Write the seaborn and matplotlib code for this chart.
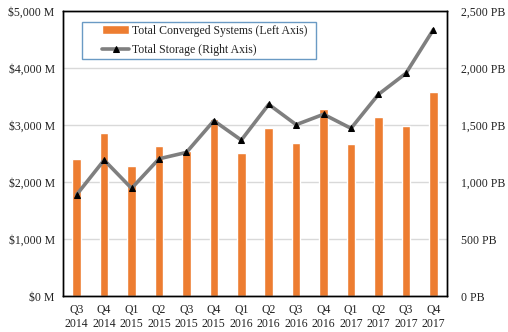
import numpy as np
import pandas as pd
import matplotlib
matplotlib.use("Agg")
import matplotlib.pyplot as plt
from matplotlib.patches import Rectangle
import seaborn as sns

quarters = ["Q3\n2014", "Q4\n2014", "Q1\n2015", "Q2\n2015", "Q3\n2015", "Q4\n2015", "Q1\n2016",
            "Q2\n2016", "Q3\n2016", "Q4\n2016", "Q1\n2017", "Q2\n2017", "Q3\n2017", "Q4\n2017"]
converged_musd = [2400, 2865, 2280, 2630, 2550, 3105, 2515,
                  2950, 2685, 3280, 2665, 3140, 2980, 3585]
storage_pb = [890, 1193, 945, 1204, 1260, 1538, 1368,
              1681, 1503, 1594, 1471, 1769, 1953, 2336]
left_ticks = [0, 1000, 2000, 3000, 4000, 5000]
right_ticks = [0, 500, 1000, 1500, 2000, 2500]

sns.set_theme(style="white")
plt.rcParams["font.family"] = ["Liberation Serif", "DejaVu Serif"]
plt.rcParams["font.size"] = 8.5

df = pd.DataFrame({"quarter": quarters, "converged": converged_musd, "storage": storage_pb})

fig = plt.figure(figsize=(5.08, 3.32), dpi=100)
ax = fig.add_axes([0.124, 0.108, 0.756, 0.859])

sns.barplot(data=df, x="quarter", y="converged", color="#ED7D31", width=0.31,
            saturation=1, ax=ax, label="Total Converged Systems (Left Axis)", zorder=2)
ax.set_ylim(0, 5000)
ax.set_yticks(left_ticks)
ax.set_yticklabels([f"${v:,} M" for v in left_ticks])
ax.set_xlim(-0.5, len(quarters) - 0.5)
ax.set_xlabel("")
ax.set_ylabel("")
ax.yaxis.grid(True, color="#d9d9d9", linewidth=1)
ax.set_axisbelow(True)
ax.tick_params(axis="both", length=0, labelsize=8.5, colors="#222222", pad=6)

ax2 = ax.twinx()
sns.lineplot(x=np.arange(len(quarters)), y=df["storage"], ax=ax2, color="#7F7F7F",
             linewidth=2.6, marker="^", markersize=4, markerfacecolor="black",
             markeredgecolor="black", label="Total Storage (Right Axis)", zorder=3)
ax2.set_ylim(0, 2500)
ax2.set_yticks(right_ticks)
ax2.set_yticklabels([f"{v:,} PB" for v in right_ticks])
ax2.set_ylabel("")
ax2.tick_params(axis="y", length=0, labelsize=8.5, colors="#222222", pad=10)
ax2.set_xlim(-0.5, len(quarters) - 0.5)

for a in (ax, ax2):
    for s in a.spines.values():
        s.set_color("black")
        s.set_linewidth(1.0)

h1, l1 = ax.get_legend_handles_labels()
h2, l2 = ax2.get_legend_handles_labels()
if ax.get_legend():
    ax.get_legend().remove()

# legend box: a plain rectangle frame with the entries inset from its left edge
ax2.add_patch(Rectangle((0.0495, 0.832), 0.6095, 0.129, transform=ax2.transAxes,
                        facecolor="white", edgecolor="#6A9AC4", linewidth=1.0,
                        zorder=4, clip_on=False))
leg = ax2.legend(h1 + h2, l1 + l2, loc="upper left", bbox_to_anchor=(0.1016, 0.952),
                 borderaxespad=0, frameon=False, fontsize=8.5, borderpad=0,
                 handlelength=2.3, handletextpad=0.2, labelspacing=0.6)
leg.set_zorder(5)
for t in leg.get_texts():
    t.set_color("#222222")

fig.savefig("out.png", dpi=100)
